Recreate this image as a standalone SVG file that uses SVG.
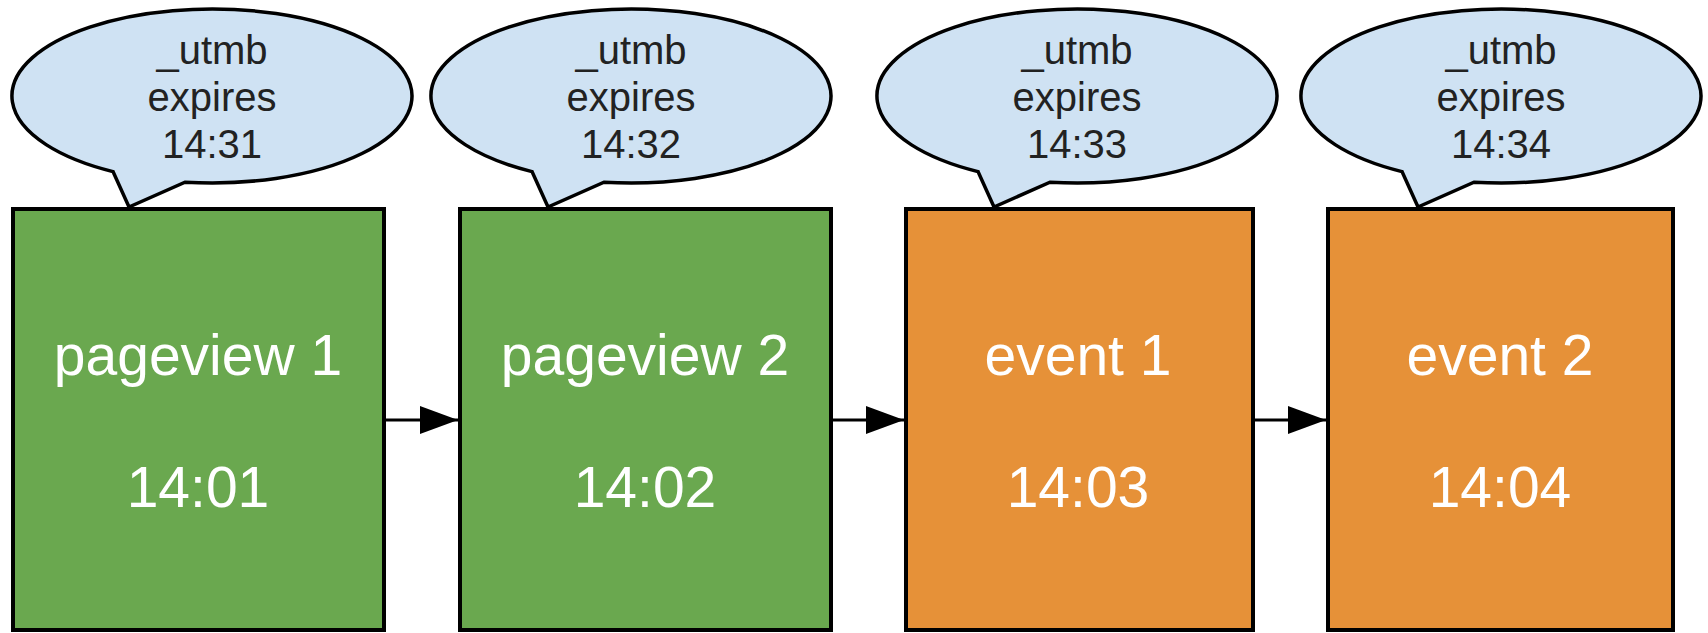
<svg xmlns="http://www.w3.org/2000/svg" width="1708" height="633" viewBox="0 0 1708 633">
  <defs>
    <marker id="arrow" viewBox="0 0 38 28" refX="38" refY="14" markerWidth="38" markerHeight="28" markerUnits="userSpaceOnUse" orient="auto">
      <path d="M0,0 L38,14 L0,28 Z" fill="#000"/>
    </marker>
  </defs>
  <style>
    .bubble { fill: #cfe2f3; stroke: #000; stroke-width: 3.5; stroke-linejoin: miter; }
    .bubble-text { font-family: "Liberation Sans", Arial, sans-serif; font-size: 40px; fill: #222; text-anchor: middle; }
    .step { stroke: #000; stroke-width: 4; }
    .page { fill: #6aa84f; }
    .event { fill: #e69138; }
    .step-text { font-family: "Liberation Sans", Arial, sans-serif; font-size: 57px; fill: #fff; text-anchor: middle; }
    .link { stroke: #000; stroke-width: 3; fill: none; marker-end: url(#arrow); }
  </style>
  <rect width="1708" height="633" fill="#fff"/>

  <!-- connectors between steps -->
  <g id="connectors">
    <line class="link" x1="386" y1="420" x2="458" y2="420"/>
    <line class="link" x1="833" y1="420" x2="904" y2="420"/>
    <line class="link" x1="1255" y1="420" x2="1326" y2="420"/>
  </g>

  <!-- step 1: pageview 1 -->
  <g id="pageview1">
    <path class="bubble" d="M113,171.6 A200,87 0 1 1 185,182.2 L129,207 Z"/>
    <text class="bubble-text" x="212" y="64">_utmb</text>
    <text class="bubble-text" x="212" y="111">expires</text>
    <text class="bubble-text" x="212" y="158">14:31</text>
    <rect class="step page" x="13" y="209" width="371" height="421"/>
    <text class="step-text" x="198" y="375">pageview 1</text>
    <text class="step-text" x="198" y="507">14:01</text>
  </g>

  <!-- step 2: pageview 2 -->
  <g id="pageview2">
    <path class="bubble" d="M532,171.6 A200,87 0 1 1 604,182.2 L548,207 Z"/>
    <text class="bubble-text" x="631" y="64">_utmb</text>
    <text class="bubble-text" x="631" y="111">expires</text>
    <text class="bubble-text" x="631" y="158">14:32</text>
    <rect class="step page" x="460" y="209" width="371" height="421"/>
    <text class="step-text" x="645" y="375">pageview 2</text>
    <text class="step-text" x="645" y="507">14:02</text>
  </g>

  <!-- step 3: event 1 -->
  <g id="event1">
    <path class="bubble" d="M978,171.6 A200,87 0 1 1 1050,182.2 L994,207 Z"/>
    <text class="bubble-text" x="1077" y="64">_utmb</text>
    <text class="bubble-text" x="1077" y="111">expires</text>
    <text class="bubble-text" x="1077" y="158">14:33</text>
    <rect class="step event" x="906" y="209" width="347" height="421"/>
    <text class="step-text" x="1078" y="375">event 1</text>
    <text class="step-text" x="1078" y="507">14:03</text>
  </g>

  <!-- step 4: event 2 -->
  <g id="event2">
    <path class="bubble" d="M1402,171.6 A200,87 0 1 1 1474,182.2 L1418,207 Z"/>
    <text class="bubble-text" x="1501" y="64">_utmb</text>
    <text class="bubble-text" x="1501" y="111">expires</text>
    <text class="bubble-text" x="1501" y="158">14:34</text>
    <rect class="step event" x="1328" y="209" width="345" height="421"/>
    <text class="step-text" x="1500" y="375">event 2</text>
    <text class="step-text" x="1500" y="507">14:04</text>
  </g>
</svg>
